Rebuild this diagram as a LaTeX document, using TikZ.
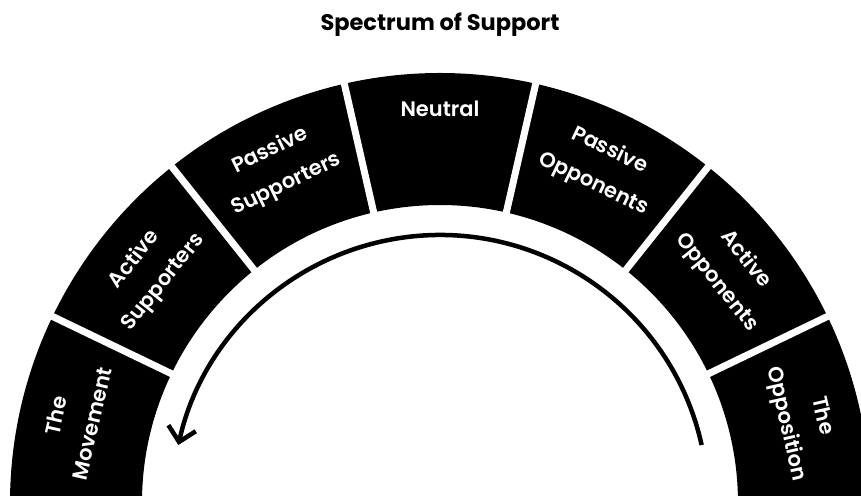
\documentclass[tikz,border=0pt]{standalone}
\usepackage{fontspec}
\newfontfamily\segfont{Poppins SemiBold}
\newfontfamily\titlefont{Poppins Bold}
\usetikzlibrary{arrows.meta}

\begin{document}
\begin{tikzpicture}[x=1pt,y=1pt,
  seglabel/.style={text=white,anchor=north,align=center,inner sep=0pt,font=\segfont\fontsize{21}{37}\selectfont},
  gapline/.style={white,line width=7pt}]
\clip (-440,8) rectangle (421,503);
\coordinate (c) at (0,0);
\node[font=\titlefont\fontsize{22.5}{26}\selectfont] (title) at (0,478) {Spectrum of Support};
% the ring and the gaps between its parts
\fill[black] (-5:430) arc[start angle=-5,end angle=185,radius=430] -- (185:298) arc[start angle=185,end angle=-5,radius=298] -- cycle;
\draw[gapline] (154.29:290) -- (154.29:440);
\draw[gapline] (128.57:290) -- (128.57:440);
\draw[gapline] (102.86:290) -- (102.86:440);
\draw[gapline] (77.14:290) -- (77.14:440);
\draw[gapline] (51.43:290) -- (51.43:440);
\draw[gapline] (25.71:290) -- (25.71:440);
\node[seglabel,rotate=77.14] (movement) at (167.14:402) {The\\Movement};
\node[seglabel,rotate=51.43] (actsup) at (141.43:402) {Active\\Supporters};
\node[seglabel,rotate=25.71] (passup) at (115.71:402) {Passive\\Supporters};
\node[seglabel] (neutral) at (90:402) {Neutral};
\node[seglabel,rotate=-25.71] (pasopp) at (64.29:402) {Passive\\Opponents};
\node[seglabel,rotate=-51.43] (actopp) at (38.57:402) {Active\\Opponents};
\node[seglabel,rotate=-77.14] (opposition) at (12.86:402) {The\\Opposition};
% arrow
\coordinate (arrowstart) at (12.5:268);
\draw[line width=4.5pt,-{Straight Barb[length=14pt,width=28pt]}] (arrowstart) arc[start angle=12.5,end angle=167.5,radius=268];
\end{tikzpicture}
\end{document}
